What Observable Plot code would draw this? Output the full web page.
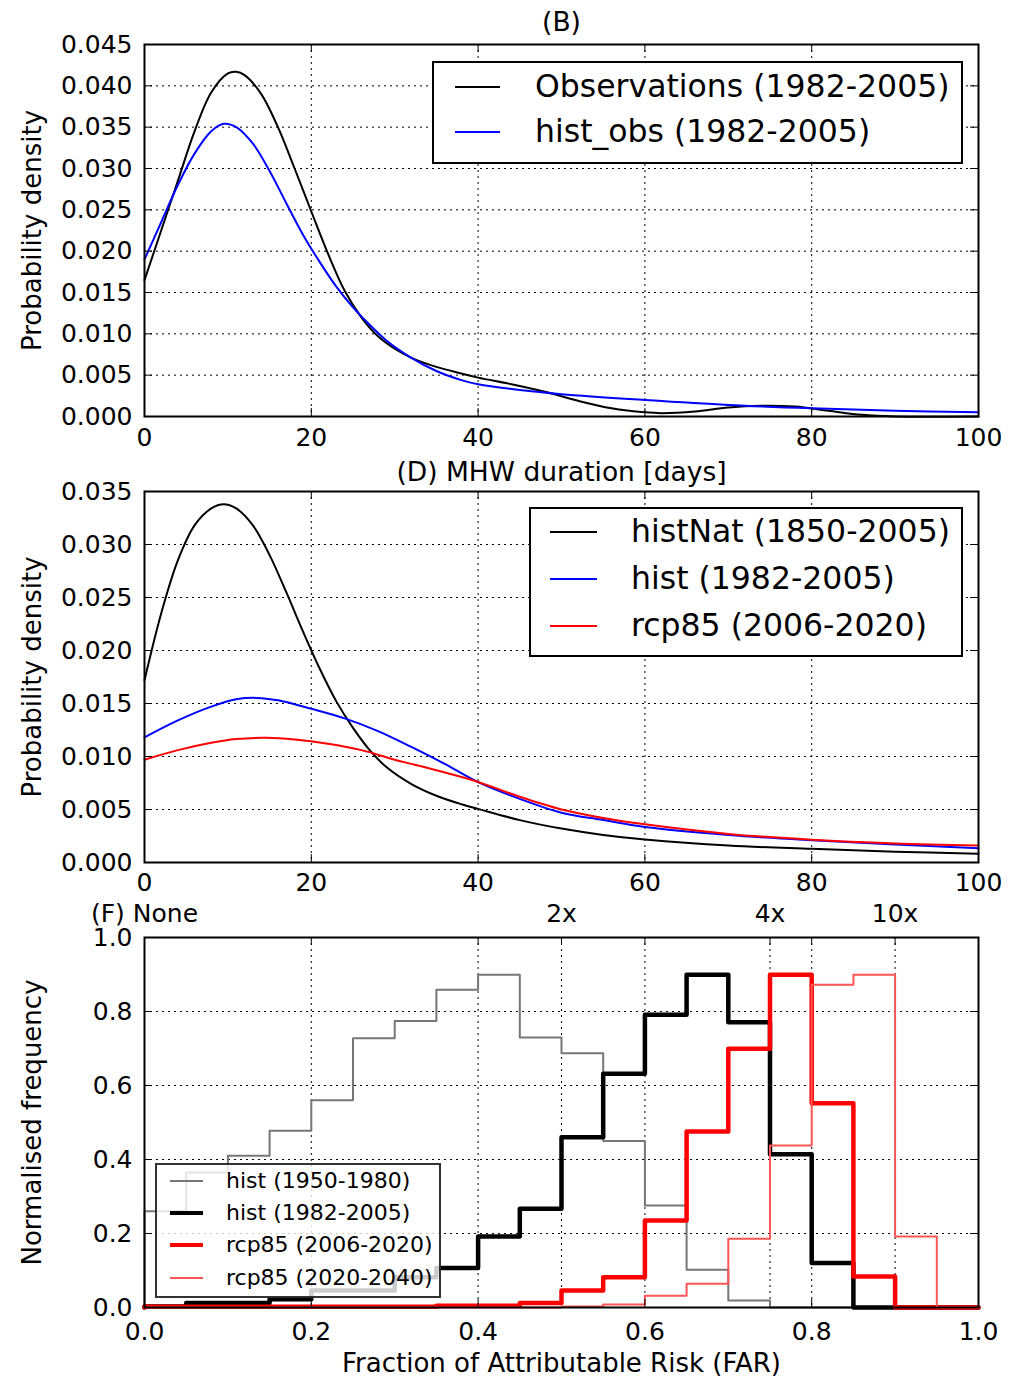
<!DOCTYPE html>
<html><head><meta charset="utf-8">
<script src="https://cdn.jsdelivr.net/npm/d3@7"></script>
<script src="https://cdn.jsdelivr.net/npm/@observablehq/plot@0.6"></script>
<style>
body{margin:0;background:#fff;font-family:"DejaVu Sans";}
#wrap{position:relative;width:1015px;height:1377px;overflow:hidden;background:#fff;}
.panel{position:absolute;left:0;}
.legend{position:absolute;box-sizing:border-box;font-family:"DejaVu Sans";color:#000;}
.sw{position:absolute;height:0;}
.lt{position:absolute;white-space:nowrap;line-height:1;}
</style></head><body><div id="wrap"></div>
<script>
// ---------- Panel (B): MHW duration PDFs, observations vs hist_obs ----------
const obsDays    = [0, 2, 4, 6, 8, 10, 11, 12, 14, 16, 18, 20, 22, 24, 26, 28, 30, 32, 35, 38, 40, 44, 48, 52, 56, 60, 62, 66, 70, 74, 78, 82, 86, 90, 100];
const obsDensity = [0.0165, 0.0225, 0.0285, 0.0345, 0.0392, 0.0415, 0.0417, 0.0413, 0.0390, 0.0350, 0.0300, 0.0248, 0.0197, 0.0152, 0.0120, 0.0097, 0.0082, 0.0071, 0.0060, 0.0052, 0.0047, 0.0039, 0.0030, 0.0019, 0.0010, 0.0005, 0.0004, 0.0006, 0.0011, 0.0013, 0.0012, 0.0007, 0.0002, 0.0, 0.0];
const histObsDays    = [0, 2, 4, 6, 8, 9.5, 11, 13, 15, 17, 19, 21, 23, 25, 27, 29, 32, 35, 38, 40, 45, 50, 60, 70, 80, 90, 100];
const histObsDensity = [0.019, 0.0235, 0.028, 0.0318, 0.0345, 0.0354, 0.0350, 0.0330, 0.0297, 0.0258, 0.0220, 0.0187, 0.0157, 0.0132, 0.0111, 0.0092, 0.0071, 0.0055, 0.0044, 0.0039, 0.0032, 0.0027, 0.0020, 0.0014, 0.0010, 0.0007, 0.0005];

// ---------- Panel (D): model PDFs ----------
const histNatDays    = [0, 2, 4, 6, 8, 9.5, 11, 13, 15, 17, 19, 21, 23, 25, 27, 29, 32, 35, 38, 40, 45, 50, 55, 60, 70, 80, 90, 100];
const histNatDensity = [0.0172, 0.0235, 0.0285, 0.0318, 0.0334, 0.0338, 0.0334, 0.0318, 0.0290, 0.0255, 0.0218, 0.0183, 0.0152, 0.0127, 0.0106, 0.0090, 0.0074, 0.0063, 0.0055, 0.00506, 0.0040, 0.0032, 0.0026, 0.00217, 0.0016, 0.00129, 0.00102, 0.00082];
const histDays    = [0, 4, 8, 11, 13.4, 16, 20, 24, 28, 32, 36, 40, 45, 50, 55, 60, 70, 80, 90, 100];
const histDensity = [0.0118, 0.0134, 0.0147, 0.0154, 0.01553, 0.0153, 0.0145, 0.0136, 0.0124, 0.0109, 0.0093, 0.00758, 0.0060, 0.0047, 0.0040, 0.00335, 0.0026, 0.0021, 0.0017, 0.00135];
const rcpDays    = [0, 4, 8, 11, 14.6, 18, 22, 26, 30, 35, 40, 45, 50, 55, 60, 70, 80, 90, 100];
const rcpDensity = [0.0097, 0.0106, 0.0113, 0.01165, 0.01176, 0.0116, 0.0112, 0.0106, 0.0097, 0.0087, 0.0076, 0.0062, 0.0050, 0.0042, 0.0036, 0.0027, 0.00215, 0.0018, 0.0016];

// ---------- Panel (F): FAR histograms ----------
const farEdges  = [0, 0.05, 0.1, 0.15, 0.2, 0.25, 0.3, 0.35, 0.4, 0.45, 0.5, 0.55, 0.6, 0.65, 0.7, 0.75, 0.8, 0.85, 0.9, 0.95, 1.0];
const hist1950  = [0.26, 0.365, 0.41, 0.478, 0.56, 0.728, 0.774, 0.859, 0.899, 0.73, 0.687, 0.45, 0.276, 0.102, 0.019, 0, 0, 0, 0, 0];
const hist1982  = [0.003, 0.012, 0.012, 0.022, 0.046, 0.046, 0.082, 0.107, 0.192, 0.267, 0.46, 0.632, 0.791, 0.899, 0.771, 0.414, 0.12, 0, 0, 0];
const rcp2006   = [0.002, 0.002, 0.002, 0.002, 0.002, 0.002, 0.002, 0.005, 0.005, 0.012, 0.046, 0.082, 0.235, 0.476, 0.699, 0.899, 0.552, 0.084, 0, 0];
const rcp2020   = [0, 0, 0, 0, 0, 0, 0, 0, 0, 0, 0.003, 0.008, 0.032, 0.064, 0.186, 0.438, 0.872, 0.899, 0.192, 0];

// ---------- ticks & labels ----------
const durTicks   = [0, 20, 40, 60, 80, 100];
const densTicksB = [0, 0.005, 0.01, 0.015, 0.02, 0.025, 0.03, 0.035, 0.04, 0.045];
const densTicksD = [0, 0.005, 0.01, 0.015, 0.02, 0.025, 0.03, 0.035];
const farTicks   = [0, 0.2, 0.4, 0.6, 0.8, 1.0];
const freqTicks  = [0, 0.2, 0.4, 0.6, 0.8, 1.0];
const farTopTicks  = [0, 0.5, 0.75, 0.9];
const farTopLabels = ["(F) None", "2x", "4x", "10x"];
const farGrid = [0.2, 0.4, 0.5, 0.6, 0.75, 0.8, 0.9];

const W = 1015, ML = 144, MR = 37;
const wrap = document.getElementById("wrap");

function pts(xs, ys) { return xs.map((x, i) => ({x, y: ys[i]})); }
function stepPts(edges, vals) {
  const out = [{x: edges[0], y: 0}];
  vals.forEach((v, i) => out.push({x: edges[i], y: v}));
  out.push({x: edges[edges.length - 1], y: vals[vals.length - 1]});
  out.push({x: edges[edges.length - 1], y: 0});
  return out;
}

function panel(o) {
  const innerH = o.height - o.mt - o.mb, innerW = W - ML - MR;
  const grid = {stroke: "black", strokeOpacity: 1, strokeWidth: 1, strokeDasharray: "2,4"};
  const tk = {stroke: "black", strokeWidth: 1};
  const inY = o.yInner;
  const svg = Plot.plot({
    width: W, height: o.height,
    marginLeft: ML, marginRight: MR, marginTop: o.mt, marginBottom: o.mb,
    style: {fontFamily: "DejaVu Sans", fontSize: "25px", color: "black", background: "white", overflow: "visible"},
    x: {domain: o.xDomain},
    y: {domain: o.yDomain},
    marks: [
      Plot.gridX(o.xGrid, grid),
      Plot.gridY(inY, grid),
      ...o.marks,
      Plot.ruleX(o.xBottomTicks, {x: d => d, insetTop: innerH - 8, ...tk}),
      Plot.ruleX(o.xTopTicks, {x: d => d, insetBottom: innerH - 8, ...tk}),
      Plot.ruleY(inY, {y: d => d, insetRight: innerW - 8, ...tk}),
      Plot.ruleY(inY, {y: d => d, insetLeft: innerW - 8, ...tk}),
      Plot.axisX(o.xTicks, {anchor: "bottom", tickSize: 0, tickPadding: o.xPad, tickFormat: o.xFmt, label: null, fontSize: 25}),
      Plot.axisY(o.yTicks, {anchor: "left", tickSize: 0, tickPadding: 12, tickFormat: o.yFmt, label: null, fontSize: 25}),
      Plot.frame({stroke: "black", strokeWidth: 2}),
      ...(o.title ? [Plot.text([o.title], {frameAnchor: "top", dy: o.titleDy, fontSize: 26.5, lineAnchor: "middle", fill: "black"})] : []),
      Plot.text([o.ylabel], {frameAnchor: "left", textAnchor: "middle", dx: -112, rotate: -90, fontSize: 26, lineAnchor: "middle", fill: "black"}),
      ...(o.extra || [])
    ]
  });
  const d = document.createElement("div");
  d.className = "panel";
  d.style.top = o.top + "px";
  d.appendChild(svg);
  wrap.appendChild(d);
}

// Panel B
panel({
  top: 0, height: 455, mt: 44, mb: 39,
  xDomain: [0, 100], yDomain: [0, 0.045],
  xTicks: durTicks, xGrid: [20, 40, 60, 80], xBottomTicks: [20, 40, 60, 80], xTopTicks: [20, 40, 60, 80],
  yTicks: densTicksB, yInner: densTicksB.slice(1, -1),
  xFmt: d => String(d), yFmt: d3.format(".3f"), xPad: 12,
  title: "(B)", titleDy: -22, ylabel: "Probability density",
  marks: [
    Plot.line(pts(obsDays, obsDensity), {x: "x", y: "y", stroke: "black", strokeWidth: 2, curve: "catmull-rom"}),
    Plot.line(pts(histObsDays, histObsDensity), {x: "x", y: "y", stroke: "#0000ff", strokeWidth: 2, curve: "catmull-rom"})
  ]
});

// Panel D
panel({
  top: 455, height: 445, mt: 36, mb: 38,
  xDomain: [0, 100], yDomain: [0, 0.035],
  xTicks: durTicks, xGrid: [20, 40, 60, 80], xBottomTicks: [20, 40, 60, 80], xTopTicks: [20, 40, 60, 80],
  yTicks: densTicksD, yInner: densTicksD.slice(1, -1),
  xFmt: d => String(d), yFmt: d3.format(".3f"), xPad: 11,
  title: "(D) MHW duration [days]", titleDy: -19, ylabel: "Probability density",
  marks: [
    Plot.line(pts(histNatDays, histNatDensity), {x: "x", y: "y", stroke: "black", strokeWidth: 2, curve: "catmull-rom"}),
    Plot.line(pts(histDays, histDensity), {x: "x", y: "y", stroke: "#0000ff", strokeWidth: 2, curve: "catmull-rom"}),
    Plot.line(pts(rcpDays, rcpDensity), {x: "x", y: "y", stroke: "#ff0000", strokeWidth: 2, curve: "catmull-rom"})
  ]
});

// Panel F
panel({
  top: 900, height: 477, mt: 37, mb: 70,
  xDomain: [0, 1], yDomain: [0, 1],
  xTicks: farTicks, xGrid: farGrid, xBottomTicks: [0.2, 0.4, 0.6, 0.8], xTopTicks: farGrid,
  yTicks: freqTicks, yInner: freqTicks.slice(1, -1),
  xFmt: d3.format(".1f"), yFmt: d3.format(".1f"), xPad: 15,
  title: null, ylabel: "Normalised frequency",
  marks: [
    Plot.line(stepPts(farEdges, hist1950), {x: "x", y: "y", stroke: "#777777", strokeWidth: 2, curve: "step-after"}),
    Plot.line(stepPts(farEdges, hist1982), {x: "x", y: "y", stroke: "black", strokeWidth: 4.5, curve: "step-after"}),
    Plot.line(stepPts(farEdges, rcp2006), {x: "x", y: "y", stroke: "#ff0000", strokeWidth: 4.5, curve: "step-after"}),
    Plot.line(stepPts(farEdges, rcp2020), {x: "x", y: "y", stroke: "#ff5555", strokeWidth: 2, curve: "step-after"})
  ],
  extra: [
    Plot.text(farTopTicks.map((t, i) => ({x: t, label: farTopLabels[i]})), {x: "x", text: "label", frameAnchor: "top", dy: -24, fontSize: 25, lineAnchor: "middle", fill: "black"}),
    Plot.text(["Fraction of Attributable Risk (FAR)"], {frameAnchor: "bottom", dy: 56, fontSize: 26, lineAnchor: "middle", fill: "black"})
  ]
});

// ---------- Legends (HTML) ----------
function legend(o) {
  const b = o.border;
  const box = document.createElement("div");
  box.className = "legend";
  Object.assign(box.style, {
    left: o.left + "px", top: o.top + "px", width: o.width + "px", height: o.height + "px",
    border: b + "px solid " + o.borderColor, background: o.bg
  });
  o.rows.forEach(r => {
    const sw = document.createElement("div");
    sw.className = "sw";
    Object.assign(sw.style, {
      left: (o.lx0 - o.left - b) + "px", width: (o.lx1 - o.lx0) + "px",
      top: (r.y - o.top - b - r.w / 2) + "px", borderTop: r.w + "px solid " + r.color
    });
    box.appendChild(sw);
    const t = document.createElement("div");
    t.className = "lt";
    t.textContent = r.label;
    Object.assign(t.style, {
      left: (o.tx - o.left - b) + "px", top: (r.y - o.top - b - o.font / 2) + "px",
      fontSize: o.font + "px", height: o.font + "px"
    });
    box.appendChild(t);
  });
  wrap.appendChild(box);
}

legend({
  left: 432, top: 61, width: 531, height: 103, border: 2, borderColor: "#000", bg: "#fff",
  lx0: 455, lx1: 500, tx: 535, font: 31.5,
  rows: [
    {y: 87, color: "#000", w: 2, label: "Observations (1982-2005)"},
    {y: 132, color: "#0000ff", w: 2, label: "hist_obs (1982-2005)"}
  ]
});
legend({
  left: 529, top: 507, width: 434, height: 150, border: 2, borderColor: "#000", bg: "#fff",
  lx0: 550, lx1: 597, tx: 631, font: 31.5,
  rows: [
    {y: 532, color: "#000", w: 2, label: "histNat (1850-2005)"},
    {y: 579, color: "#0000ff", w: 2, label: "hist (1982-2005)"},
    {y: 626, color: "#ff0000", w: 2, label: "rcp85 (2006-2020)"}
  ]
});
legend({
  left: 155, top: 1163, width: 286, height: 135, border: 2, borderColor: "rgba(0,0,0,0.8)", bg: "rgba(255,255,255,0.8)",
  lx0: 170, lx1: 203, tx: 226, font: 22,
  rows: [
    {y: 1181, color: "#777777", w: 2, label: "hist (1950-1980)"},
    {y: 1213, color: "#000", w: 4.5, label: "hist (1982-2005)"},
    {y: 1245, color: "#ff0000", w: 4.5, label: "rcp85 (2006-2020)"},
    {y: 1278, color: "#ff5555", w: 2, label: "rcp85 (2020-2040)"}
  ]
});
</script></body></html>
